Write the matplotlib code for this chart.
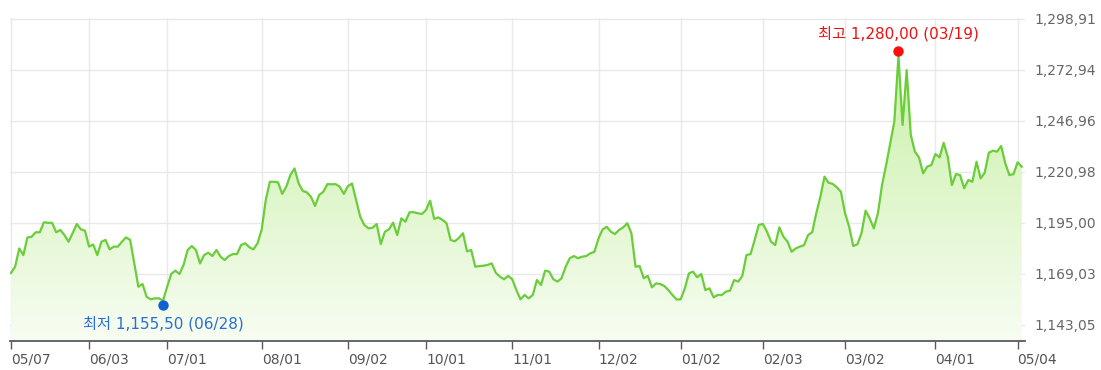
import numpy as np
import pandas as pd
import matplotlib
matplotlib.use("Agg")
import matplotlib.pyplot as plt
from matplotlib.colors import LinearSegmentedColormap
from matplotlib.patches import PathPatch
from matplotlib.transforms import offset_copy

plt.rcParams['font.family'] = ['DejaVu Sans', 'Noto Sans CJK KR']

# ---------------- data ----------------
start_date = "2019-05-07"
end_date = "2020-05-06"
holidays = ["2019-06-06", "2019-08-15", "2019-09-12", "2019-09-13", "2019-10-03",
            "2019-10-09", "2019-12-25", "2019-12-31", "2020-01-01", "2020-01-24",
            "2020-01-27", "2020-04-15", "2020-04-30", "2020-05-01", "2020-05-05"]

rates = [
    1169.5, 1172.7, 1182.0, 1178.6, 1187.6, 1187.9, 1190.2, 1190.2, 1195.3, 1195.0,
    1195.0, 1190.2, 1191.4, 1188.8, 1185.4, 1189.8, 1194.4, 1191.7, 1191.0, 1182.9,
    1184.0, 1178.6, 1185.4, 1186.3, 1181.5, 1182.9, 1182.9, 1185.4, 1187.6, 1186.3,
    1174.4, 1162.5, 1163.9, 1157.4, 1156.1, 1156.6, 1156.6, 1155.5, 1162.5, 1169.0,
    1170.7, 1169.0, 1173.6, 1181.2, 1183.2, 1181.2, 1174.4, 1178.6, 1179.8, 1178.1,
    1181.2, 1177.8, 1176.1, 1178.1, 1179.1, 1179.1, 1183.7, 1184.6, 1182.6, 1181.5,
    1184.6, 1191.4, 1206.6, 1215.9, 1215.9, 1215.6, 1209.7, 1213.4, 1219.4, 1222.7,
    1215.1, 1211.3, 1210.5, 1208.3, 1203.6, 1209.2, 1210.8, 1214.7, 1214.6, 1214.7,
    1213.4, 1209.7, 1213.7, 1215.0, 1206.6, 1198.1, 1193.9, 1192.2, 1192.5, 1194.4,
    1184.2, 1190.5, 1191.7, 1195.1, 1188.8, 1197.3, 1195.6, 1200.4, 1200.4, 1199.9,
    1199.5, 1201.5, 1206.3, 1197.0, 1197.8, 1196.5, 1194.8, 1186.3, 1185.6, 1187.3,
    1189.7, 1180.5, 1181.2, 1172.7, 1173.0, 1173.2, 1173.6, 1174.4, 1169.6, 1167.6,
    1166.3, 1168.0, 1166.3, 1160.8, 1156.1, 1158.3, 1156.6, 1158.3, 1165.9, 1163.4,
    1170.7, 1170.2, 1166.3, 1165.1, 1166.8, 1172.7, 1177.0, 1178.1, 1177.0, 1177.8,
    1178.1, 1179.5, 1180.3, 1187.1, 1191.7, 1193.0, 1190.5, 1189.3, 1191.4, 1192.7,
    1194.8, 1189.7, 1172.7, 1173.0, 1166.8, 1168.0, 1162.2, 1164.2, 1163.9, 1162.9,
    1160.8, 1158.3, 1156.0, 1156.1, 1161.7, 1169.3, 1170.2, 1167.3, 1169.0, 1160.8,
    1161.7, 1157.1, 1158.3, 1158.3, 1160.0, 1160.5, 1165.9, 1165.1, 1168.0, 1178.6,
    1179.1, 1186.3, 1193.9, 1194.4, 1190.5, 1185.4, 1183.7, 1192.7, 1188.0, 1185.4,
    1180.3, 1182.0, 1182.9, 1183.6, 1188.8, 1190.2, 1199.9, 1208.3, 1218.5, 1215.4,
    1214.8, 1213.1, 1210.8, 1199.9, 1193.0, 1183.2, 1184.1, 1189.7, 1201.2, 1197.3,
    1192.2, 1199.9, 1214.2, 1224.4, 1235.4, 1246.5, 1280.0, 1244.8, 1272.7, 1239.7,
    1231.2, 1228.3, 1220.2, 1223.6, 1224.4, 1230.0, 1228.3, 1235.7, 1228.6, 1214.2,
    1219.8, 1219.3, 1212.6, 1216.8, 1215.9, 1226.1, 1217.6, 1220.5, 1230.7, 1231.7,
    1231.2, 1234.1, 1225.3, 1219.3, 1219.8, 1225.8, 1223.6,
]

tick_dates = ["2019-05-07", "2019-06-03", "2019-07-01", "2019-08-01", "2019-09-02",
              "2019-10-01", "2019-11-01", "2019-12-02", "2020-01-02", "2020-02-03",
              "2020-03-02", "2020-04-01", "2020-05-04"]
tick_labels = ["05/07", "06/03", "07/01", "08/01", "09/02", "10/01", "11/01",
               "12/02", "01/02", "02/03", "03/02", "04/01", "05/04"]

y_ticks = [1143.05, 1169.03, 1195.00, 1220.98, 1246.96, 1272.94, 1298.91]
y_tick_labels = ["1,143,05", "1,169,03", "1,195,00", "1,220,98", "1,246,96",
                 "1,272,94", "1,298,91"]

high_date, high_value, high_label = "2020-03-19", 1280.00, "최고 1,280,00 (03/19)"
low_date, low_value, low_label = "2019-06-28", 1155.50, "최저 1,155,50 (06/28)"

# ---------------- trading-day axis ----------------
days = pd.bdate_range(start_date, end_date)
days = days[~days.isin(pd.to_datetime(holidays))]
day_index = {d.strftime("%Y-%m-%d"): i for i, d in enumerate(days)}
x = np.arange(len(rates))
vals = np.array(rates)
tick_pos = [day_index[d] for d in tick_dates]
hi_x = day_index[high_date]
lo_x = day_index[low_date]

# ---------------- figure ----------------
W, H = 1101, 370
fig = plt.figure(figsize=(W / 100, H / 100), dpi=100)
ax = fig.add_axes([10 / W, 29 / H, 1015 / W, 323 / H])
ymin, ymax = 1134.9, 1299.2
xmin, xmax = -0.25, 246.8
ax.set_xlim(xmin, xmax)
ax.set_ylim(ymin, ymax)

# grid
for yt in y_ticks:
    ax.axhline(yt, color="#e9e9e9", lw=1.0, zorder=0)
for tp in tick_pos:
    ax.axvline(tp, color="#e9e9e9", lw=1.0, zorder=0)

# gradient fill under the line
poly = ax.fill_between(x, vals, ymin, facecolor="none", edgecolor="none")
path = poly.get_paths()[0]
patch = PathPatch(path, transform=ax.transData, facecolor="none", edgecolor="none")
ax.add_patch(patch)
cmap = LinearSegmentedColormap.from_list("g", ["#f7fdf2", "#c4ee9e"])
grad = np.linspace(0, 1, 256).reshape(-1, 1)
im = ax.imshow(grad, extent=[xmin, xmax, ymin, ymax], origin="lower",
               aspect="auto", cmap=cmap, zorder=1, interpolation="bilinear")
im.set_clip_path(patch)

ax.plot(x, vals, color="#6acd3a", lw=1.6, zorder=3, solid_joinstyle="round")

# high / low markers
tr_hi = offset_copy(ax.transData, fig=fig, x=0, y=3.5, units="points")
tr_lo = offset_copy(ax.transData, fig=fig, x=0, y=-3.5, units="points")
ax.plot([hi_x], [high_value], "o", color="#ff0d0d", ms=7.5, mec="none",
        transform=tr_hi, zorder=5)
ax.plot([lo_x], [low_value], "o", color="#1560d0", ms=7.5, mec="none",
        transform=tr_lo, zorder=5)
ax.annotate(high_label, (hi_x, high_value), xytext=(0, 15.5), textcoords="offset points",
            ha="center", va="center", color="#ee1111", fontsize=11)
ax.annotate(low_label, (lo_x, low_value), xytext=(0, -16.5), textcoords="offset points",
            ha="center", va="center", color="#2a6fd0", fontsize=11)

# axes styling
for s in ["top", "left", "right"]:
    ax.spines[s].set_visible(False)
ax.spines["bottom"].set_color("#5a5a5a")
ax.spines["bottom"].set_linewidth(1.3)
ax.spines["bottom"].set_zorder(6)

ax.set_xticks(tick_pos)
ax.set_xticklabels(tick_labels, ha="left", color="#555555", fontsize=10)
ax.tick_params(axis="x", direction="out", length=6, width=1, color="#5a5a5a", pad=2)

ax.yaxis.tick_right()
ax.set_yticks(y_ticks)
ax.set_yticklabels(y_tick_labels, color="#666666", fontsize=10)
ax.tick_params(axis="y", length=0, pad=7)

fig.savefig("out.png", dpi=100, facecolor="white")
